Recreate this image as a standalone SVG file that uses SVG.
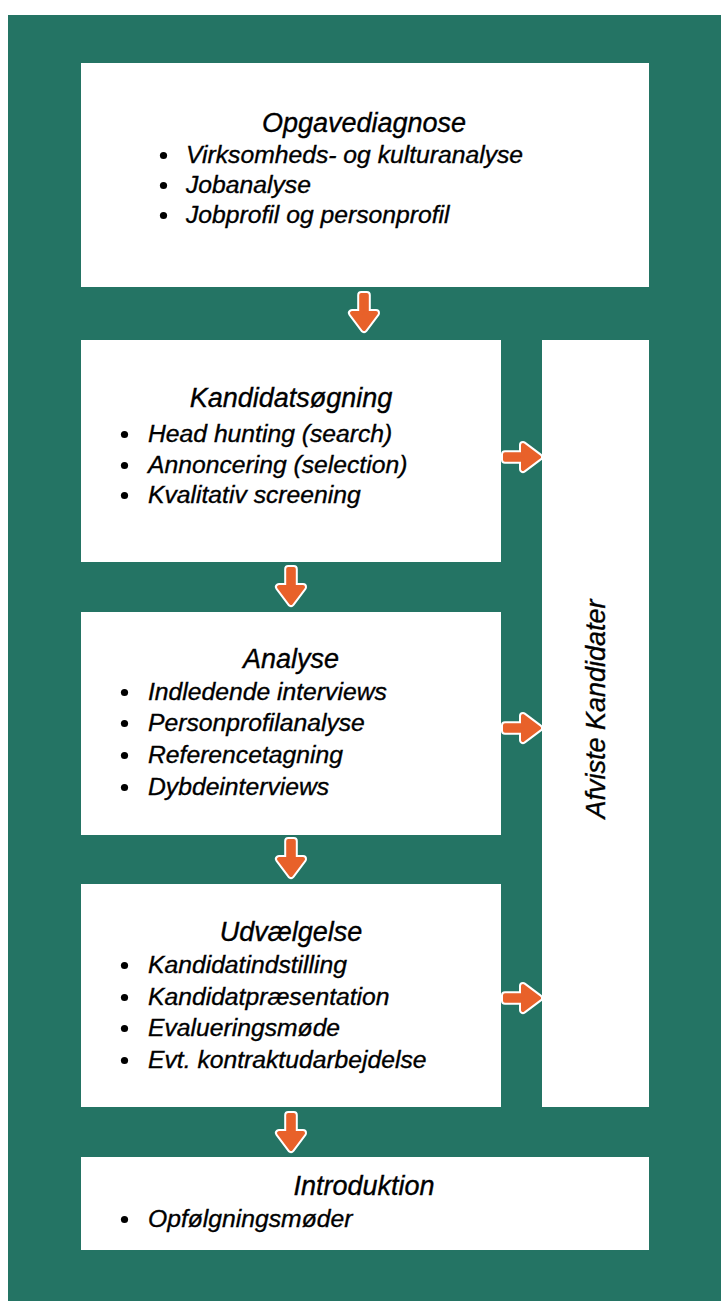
<svg xmlns="http://www.w3.org/2000/svg" xmlns:xlink="http://www.w3.org/1999/xlink" width="721" height="1301" viewBox="0 0 721 1301">
<style>
.bg{fill:#247464}
.box{fill:#ffffff}
.t{font-family:"Liberation Sans",Arial,sans-serif;font-style:italic;fill:#000;stroke:#000;stroke-width:0.35}
.title{font-size:27px;text-anchor:middle}
.item{font-size:24.7px}
.dot{fill:#000}
.aw{fill:#ffffff;stroke:#ffffff;stroke-width:8;stroke-linejoin:round}
.ao{fill:#e8612a;stroke:#e8612a;stroke-width:4;stroke-linejoin:round}
</style>
<defs>
<g id="arr">
<path class="aw" d="M-17,-2.8 L1,-2.8 L1,-12 L17,0 L1,12 L1,2.8 L-17,2.8 Z"/>
<path class="ao" d="M-17,-2.8 L1,-2.8 L1,-12 L17,0 L1,12 L1,2.8 L-17,2.8 Z"/>
</g>
</defs>
<rect class="bg" x="8" y="15" width="713" height="1286"/>

<g id="opgavediagnose">
<rect class="box" x="81" y="63" width="568" height="224"/>
<text class="t title" x="364" y="132">Opgavediagnose</text>
<circle class="dot" cx="163.5" cy="155.5" r="3.6"/><text class="t item" x="186" y="163">Virksomheds- og kulturanalyse</text>
<circle class="dot" cx="163.5" cy="185.5" r="3.6"/><text class="t item" x="186" y="193">Jobanalyse</text>
<circle class="dot" cx="163.5" cy="215.5" r="3.6"/><text class="t item" x="186" y="223">Jobprofil og personprofil</text>
</g>

<g id="kandidatsoegning">
<rect class="box" x="81" y="340" width="420" height="222"/>
<text class="t title" x="291" y="407">Kandidatsøgning</text>
<circle class="dot" cx="124.5" cy="434.5" r="3.6"/><text class="t item" x="148" y="442">Head hunting (search)</text>
<circle class="dot" cx="124.5" cy="465.5" r="3.6"/><text class="t item" x="148" y="473">Annoncering (selection)</text>
<circle class="dot" cx="124.5" cy="495.5" r="3.6"/><text class="t item" x="148" y="503">Kvalitativ screening</text>
</g>

<g id="analyse">
<rect class="box" x="81" y="612" width="420" height="223"/>
<text class="t title" x="291" y="668">Analyse</text>
<circle class="dot" cx="124.5" cy="692.5" r="3.6"/><text class="t item" x="148" y="700">Indledende interviews</text>
<circle class="dot" cx="124.5" cy="723.5" r="3.6"/><text class="t item" x="148" y="731">Personprofilanalyse</text>
<circle class="dot" cx="124.5" cy="755.5" r="3.6"/><text class="t item" x="148" y="763">Referencetagning</text>
<circle class="dot" cx="124.5" cy="787.5" r="3.6"/><text class="t item" x="148" y="795">Dybdeinterviews</text>
</g>

<g id="udvaelgelse">
<rect class="box" x="81" y="884" width="420" height="223"/>
<text class="t title" x="291" y="941">Udvælgelse</text>
<circle class="dot" cx="124.5" cy="965.5" r="3.6"/><text class="t item" x="148" y="973">Kandidatindstilling</text>
<circle class="dot" cx="124.5" cy="997.5" r="3.6"/><text class="t item" x="148" y="1005">Kandidatpræsentation</text>
<circle class="dot" cx="124.5" cy="1028.5" r="3.6"/><text class="t item" x="148" y="1036">Evalueringsmøde</text>
<circle class="dot" cx="124.5" cy="1060.5" r="3.6"/><text class="t item" x="148" y="1068">Evt. kontraktudarbejdelse</text>
</g>

<g id="introduktion">
<rect class="box" x="81" y="1157" width="568" height="93"/>
<text class="t title" x="364" y="1195">Introduktion</text>
<circle class="dot" cx="124.5" cy="1219.5" r="3.6"/><text class="t item" x="148" y="1227">Opfølgningsmøder</text>
</g>

<g id="afviste">
<rect class="box" x="542" y="340" width="107" height="767"/>
<text class="t title" transform="translate(605,709) rotate(-90)" x="0" y="0">Afviste Kandidater</text>
</g>

<g id="connectors">
<use xlink:href="#arr" transform="translate(364,312) rotate(90)"/>
<use xlink:href="#arr" transform="translate(291,586) rotate(90)"/>
<use xlink:href="#arr" transform="translate(291,858) rotate(90)"/>
<use xlink:href="#arr" transform="translate(291,1132) rotate(90)"/>
<use xlink:href="#arr" transform="translate(522,457)"/>
<use xlink:href="#arr" transform="translate(522,728)"/>
<use xlink:href="#arr" transform="translate(522,998)"/>
</g>
</svg>
